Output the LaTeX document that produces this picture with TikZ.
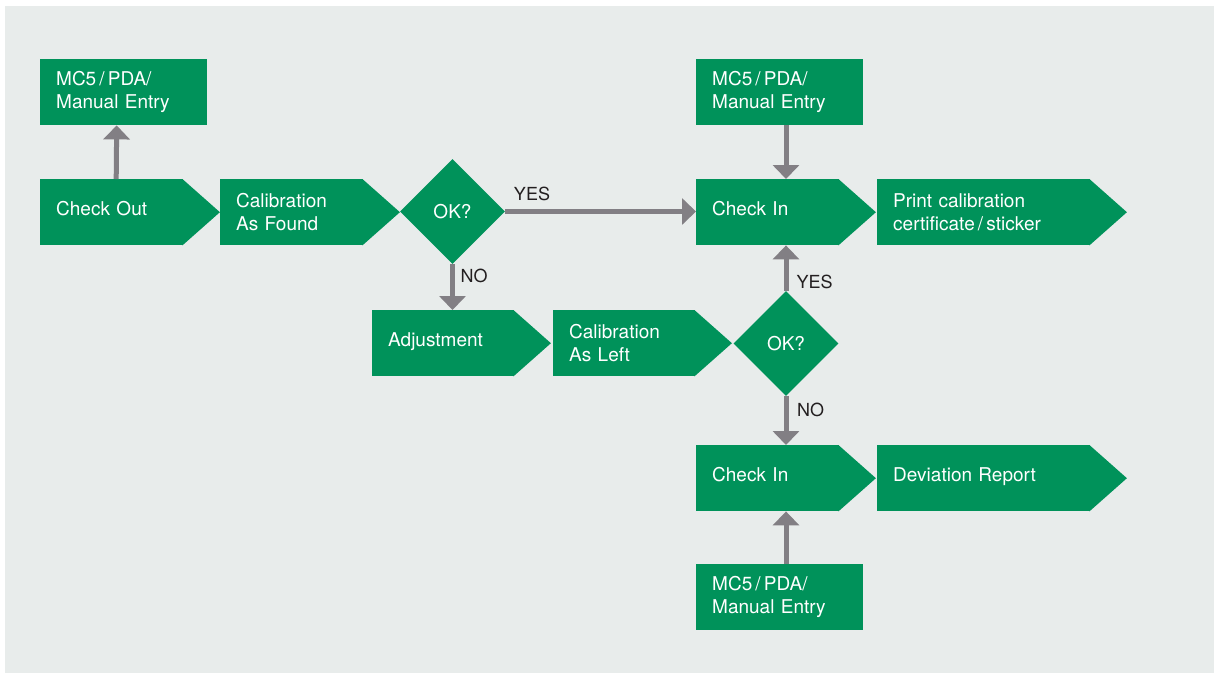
\documentclass[tikz,border=0pt]{standalone}
\usepackage{fontspec}
\setmainfont{TeX Gyre Heros}
\usetikzlibrary{arrows.meta,shapes.geometric}
\definecolor{flowgreen}{RGB}{0,146,90}
\definecolor{flowbg}{RGB}{232,236,235}
\definecolor{flowgray}{RGB}{130,127,132}
\definecolor{flowtext}{RGB}{35,31,32}
\begin{document}
\begin{tikzpicture}[x=1pt,y=-1pt,
    stepbox/.style={fill=flowgreen,text=white,anchor=north west,inner xsep=16pt,
      inner ysep=0pt,minimum height=66pt,text width=#1,align=left,
      font=\fontsize{19}{23.5}\selectfont},
    oneline/.style={text depth=7pt},
    okbox/.style={diamond,fill=flowgreen,text=white,inner sep=0pt,
      minimum width=105pt,minimum height=105pt,font=\fontsize{19}{23}\selectfont},
    answer/.style={text=flowtext,inner sep=0pt,font=\fontsize{18}{22}\selectfont},
    flow/.style={draw=flowgray,line width=5pt,-{Triangle[width=26pt,length=14pt]}}]
      \useasboundingbox (0,0) rectangle (1217,673);
      \fill[flowbg] (5,6) rectangle (1214,673);
      \path
        (40,59) node[stepbox=135pt] (mc1){MC5\,/\,PDA/\\Manual Entry}
        (40,179) node[stepbox=111pt,oneline] (co){Check Out}
        (220,179) node[stepbox=111pt] (caf){Calibration\\As Found}
        (452.5,211.5) node[okbox] (ok1){OK?}
        (696,59) node[stepbox=135pt] (mc2){MC5\,/\,PDA/\\Manual Entry}
        (696,179) node[stepbox=111pt,oneline] (ci1){Check In}
        (877,179) node[stepbox=181pt] (pr){Print calibration\\certificate\,/\,sticker}
        (372,310) node[stepbox=110pt,oneline] (adj){Adjustment}
        (553,310) node[stepbox=110pt] (cal){Calibration\\As Left}
        (786,343.5) node[okbox] (ok2){OK?}
        (696,445) node[stepbox=111pt,oneline] (ci2){Check In}
        (877,445) node[stepbox=181pt,oneline] (dev){Deviation Report}
        (696,564) node[stepbox=135pt] (mc3){MC5\,/\,PDA/\\Manual Entry};
      % pointed ends of the step boxes
      \foreach \n in {co,caf,ci1,pr,adj,cal,ci2,dev}
        \fill[flowgreen] ([xshift=-1pt]\n.north east) -- ([xshift=36.5pt]\n.east)
          -- ([xshift=-1pt]\n.south east) -- cycle;
      \path
        (532,193.5) node[answer] (yes1){YES}
        (474,275.5) node[answer] (no1){NO}
        (814.5,281.5) node[answer] (yes2){YES}
        (810.5,409.5) node[answer] (no2){NO};
      \begin{scope}[flow]
        \draw ([xshift=4.5pt]co.north) -- ([xshift=-7pt]mc1.south);
        \draw (ok1.east) -- (ok1.east -| ci1.west);
        \draw (ok1.south) -- (ok1.south |- adj.north);
        \draw (ok2 |- mc2.south) -- (ok2 |- ci1.north);
        \draw (ok2.north) -- (ok2.north |- ci1.south);
        \draw (ok2.south) -- (ok2.south |- ci2.north);
        \draw (ok2 |- mc3.north) -- (ok2 |- ci2.south);
      \end{scope}
    \end{tikzpicture}
\end{document}
